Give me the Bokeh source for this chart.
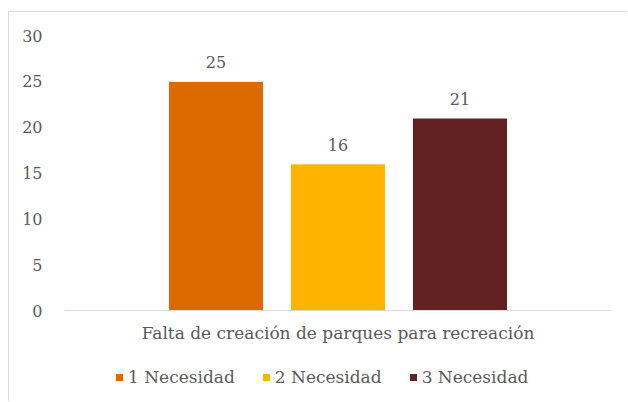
from bokeh.plotting import figure
from bokeh.models import FactorRange, ColumnDataSource, LabelSet, Legend, LegendItem, Span
from bokeh.transform import dodge
from bokeh.core.properties import value
from bokeh.embed import file_html
from bokeh.resources import INLINE

category = ["Falta de creación de parques para recreación"]
series = ["1 Necesidad", "2 Necesidad", "3 Necesidad"]
values = [25, 16, 21]
colors = ["#DD6A00", "#FFB400", "#622222"]
y_ticks = [0, 5, 10, 15, 20, 25, 30]

FONT = "DejaVu Serif"
TXT = "#595959"

# layout (pixels)
W, H = 619, 390
ML, MR, MT, MB = 55, 17, 23, 7
frame_h = H - MT - MB
axis_px = 275            # pixels from value 30 down to value 0
y_top = 30
y_bottom = -(frame_h - axis_px) * y_top / axis_px

p = figure(x_range=FactorRange(factors=category, range_padding=0),
           y_range=(y_bottom, y_top), width=W, height=H,
           output_backend="svg", toolbar_location=None,
           min_border_left=ML, min_border_right=MR, min_border_top=MT,
           min_border_bottom=MB)
p.styles = {"margin-left": "8px", "margin-top": "11px",
            "border-top": "1px solid #D9D9D9", "border-left": "1px solid #D9D9D9"}
p.outline_line_color = None
p.xgrid.grid_line_color = None
p.ygrid.grid_line_color = None
p.xaxis.visible = False

p.add_layout(Span(location=0, dimension="width", line_color="#D9D9D9", line_width=1))

offsets = [-0.223, 0.0, 0.223]
bar_w = 0.174
items = []
for s, v, c, off in zip(series, values, colors, offsets):
    src = ColumnDataSource(dict(cat=category, val=[v], lab=[str(v)]))
    r = p.vbar(x=dodge("cat", off, range=p.x_range), top="val", bottom=0, width=bar_w,
               fill_color=c, line_color="white", line_width=1, source=src)
    items.append(LegendItem(label=s, renderers=[r]))
    p.add_layout(LabelSet(x=dodge("cat", off, range=p.x_range), y="val", text="lab",
                          source=src, text_align="center", text_baseline="bottom",
                          y_offset=13, text_font=value(FONT), text_font_size=value("16px"),
                          text_color=value(TXT)))

cat_src = ColumnDataSource(dict(cat=category, y=[0]))
p.add_layout(LabelSet(x="cat", y="y", text="cat", source=cat_src,
                      text_align="center", text_baseline="top", y_offset=-12,
                      text_font=value(FONT), text_font_size=value("17px"),
                      text_color=value(TXT)))

p.yaxis.ticker = y_ticks
p.yaxis.axis_line_color = None
p.yaxis.major_tick_line_color = None
p.yaxis.minor_tick_line_color = None
p.yaxis.major_label_standoff = 16
p.yaxis.major_label_text_font = FONT
p.yaxis.major_label_text_font_size = "16px"
p.yaxis.major_label_text_color = TXT

legend = Legend(items=items, orientation="horizontal", location=(50, 8),
                padding=0, margin=0, spacing=26, label_standoff=4,
                glyph_width=10, glyph_height=10, label_height=18,
                label_text_font=FONT, label_text_font_size="17px",
                label_text_color=TXT, border_line_color=None,
                background_fill_alpha=0)
p.add_layout(legend, "center")

open("out.html", "w").write(file_html(p, INLINE))
